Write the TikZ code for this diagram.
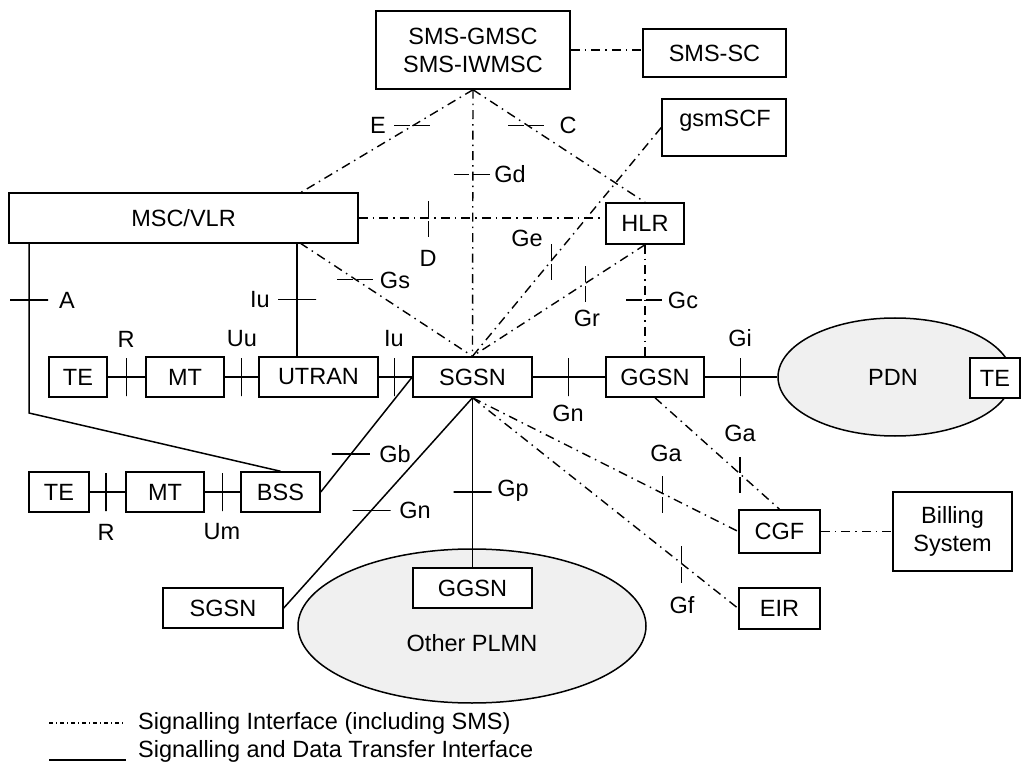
\documentclass[tikz,border=0pt]{standalone}
\usepackage{fontspec}
\setmainfont{Liberation Sans}
\usepackage{tikz}
\usetikzlibrary{shapes.geometric}
\pgfdeclarelayer{bg}
\pgfsetlayers{bg,main}

\tikzset{
  box/.style={draw, fill=white, inner sep=0pt, line width=1.5pt},
  net/.style={draw, ellipse, fill=black!6, inner sep=0pt, line width=1.5pt},
  sig/.style={line width=1.4pt, dash pattern=on 9pt off 5pt on 1.5pt off 5pt},
  dat/.style={line width=1.5pt},
  vtick/.style={draw, inner sep=0pt, minimum width=0pt, minimum height=38pt, line width=1.2pt},
  htick/.style={draw, inner sep=0pt, minimum height=0pt, minimum width=38pt, line width=1.2pt},
}

\begin{document}
\begin{tikzpicture}[x=1pt, y=-1pt, font=\fontsize{23.5}{28}\selectfont]
    \useasboundingbox (0,0) rectangle (1021,762);

    % networks
    \begin{pgfonlayer}{bg}
        \node [net, minimum width=234pt, minimum height=118pt] (pdn) at (895,377) {};
        \node [net, minimum width=348pt, minimum height=154pt] (plmn) at (472,626) {};
    \end{pgfonlayer}
    \node (pdntxt) at (893,377) {PDN};
    \node (plmntxt) at (472,643) {Other PLMN};

    % core boxes
    \node [box, minimum width=194pt, minimum height=78pt, align=center] (smsg) at (473,50) {SMS-GMSC\\SMS-IWMSC};
    \node [box, minimum width=143pt, minimum height=48pt] (smssc) at (714.5,53) {SMS-SC};
    \node [box, minimum width=124pt, minimum height=57pt] (gsmscf) at (724,127.5) {};
    \node (gsmscftxt) at (725,121) {gsmSCF};
    \node [box, minimum width=349pt, minimum height=50pt] (msc) at (183.5,218) {MSC/VLR};
    \node [box, minimum width=78pt, minimum height=41pt] (hlr) at (645,223.5) {HLR};

    \node [box, minimum width=58pt, minimum height=40pt] (te1) at (78,377) {TE};
    \node [box, minimum width=78pt, minimum height=40pt] (mt1) at (185,377) {MT};
    \node [box, minimum width=119pt, minimum height=40pt] (utran) at (318.5,377) {UTRAN};
    \node [box, minimum width=119pt, minimum height=40pt] (sgsn) at (472.5,377) {SGSN};
    \node [box, minimum width=98pt, minimum height=40pt] (ggsn) at (655,377) {GGSN};
    \node [box, minimum width=50pt, minimum height=40pt] (te3) at (995,378) {TE};

    \node [box, minimum width=60pt, minimum height=40pt] (te2) at (59,492) {TE};
    \node [box, minimum width=78pt, minimum height=40pt] (mt2) at (165,492) {MT};
    \node [box, minimum width=79pt, minimum height=40pt] (bss) at (280.5,492) {BSS};

    \node [box, minimum width=120pt, minimum height=40pt] (sgsn2) at (223,608) {SGSN};
    \node [box, minimum width=119pt, minimum height=40pt] (ggsn2) at (472.5,588) {GGSN};

    \node [box, minimum width=81pt, minimum height=43pt] (cgf) at (779.5,531.5) {CGF};
    \node [box, minimum width=81pt, minimum height=41pt] (eir) at (779.5,608.5) {EIR};
    \node [box, minimum width=119pt, minimum height=79pt, align=center] (bill) at (952.5,531.5) {Billing\\System};

    % attachment points
    \coordinate (mscE) at (300,193);
    \coordinate (mscGs) at (300,243);
    \coordinate (mscIu) at (297,243);
    \coordinate (mscA) at (29,243);
    \coordinate (bend) at (29,413);

    % interface labels
    \node (lE) at (378,125) {E};
    \node (lC) at (568,125) {C};
    \node (lGd) at (510,174) {Gd};
    \node (lD) at (428,258) {D};
    \node (lGe) at (527,238) {Ge};
    \node (lGs) at (395,280) {Gs};
    \node (lGr) at (587,318) {Gr};
    \node (lGc) at (683,300) {Gc};
    \node (lA) at (67,300) {A};
    \node (lIu) at (260,300) {Iu};
    \node (lR) at (126,339) {R};
    \node (lUu) at (242,339) {Uu};
    \node (lIu2) at (394,339) {Iu};
    \node (lGi) at (740,338) {Gi};
    \node (lGn) at (568,413) {Gn};
    \node (lGa2) at (740,433) {Ga};
    \node (lGa) at (666,453) {Ga};
    \node (lGb) at (395,454) {Gb};
    \node (lGp) at (513,491) {Gp};
    \node (lGn2) at (415,510) {Gn};
    \node (lR2) at (106,532) {R};
    \node (lUm) at (222,532) {Um};
    \node (lGf) at (682,605) {Gf};

    \begin{pgfonlayer}{bg}
        % signalling only
        \draw [sig] (smsg.east) -- (smsg.east -| smssc.west);
        \draw [sig] (smsg.south) -- node [htick, pos=.346] (tE) {} (mscE);
        \draw [sig] (smsg.south) -- node [htick, pos=.316] (tC) {} (hlr.north);
        \draw [sig] (smsg.south) -- node [htick, pos=.317] (tGd) {} (sgsn.north);
        \draw [sig] (msc.east) -- node [vtick, pos=.282] (tD) {} (msc.east -| hlr.west);
        \draw [sig] (gsmscf.west) -- node [vtick, pos=.582] (tGe) {} (sgsn.north);
        \draw [sig] (hlr.south) -- node [vtick, pos=.343] (tGr) {} (sgsn.north);
        \draw [sig] (hlr.south) -- node [htick, pos=.496] (tGc) {} (hlr.south |- ggsn.north);
        \draw [sig] (mscGs) -- node [htick, pos=.325] (tGs) {} (sgsn.north);
        \draw [sig] (sgsn.south) -- node [vtick, pos=.714] (tGa) {} (cgf.west);
        \draw [sig] (ggsn.south) -- node [vtick, pos=.683] (tGa2) {} (cgf.north);
        \draw [sig] (sgsn.south) -- node [vtick, pos=.786] (tGf) {} (eir.west);
        \draw [sig] (cgf.east) -- (bill.west);

        % signalling and data
        \draw [dat] (mscIu) -- node [htick, pos=.5] (tIu) {} (mscIu |- utran.north);
        \draw [dat] (mscA) -- node [htick, pos=.335] (tA) {} (bend) -- (bss.north);
        \draw [dat] (te1.east) -- node [vtick] (tR) {} (mt1.west);
        \draw [dat] (mt1.east) -- node [vtick] (tUu) {} (utran.west);
        \draw [dat] (utran.east) -- node [vtick, pos=.46] (tIu2) {} (sgsn.west);
        \draw [dat] (sgsn.east) -- node [vtick, pos=.49] (tGn) {} (ggsn.west);
        \draw [dat] (ggsn.east) -- node [vtick, pos=.49] (tGi) {} (pdn.west);
        \draw [dat] (te2.east) -- node [vtick, pos=.46] (tR2) {} (mt2.west);
        \draw [dat] (mt2.east) -- node [vtick, pos=.49] (tUm) {} (bss.west);
        \draw [dat] (sgsn.west) -- node [htick, pos=.67] (tGb) {} (bss.east);
        \draw [dat] (sgsn.south) -- node [htick, pos=.535] (tGn2) {} (sgsn2.east);
        \draw [dat] (sgsn.south) -- node [htick, pos=.556] (tGp) {} (ggsn2.north);
    \end{pgfonlayer}

    % legend
    \coordinate (k1a) at (49,723);
    \coordinate (k1b) at (123,723);
    \coordinate (k2a) at (49,760);
    \coordinate (k2b) at (126,760);
    \draw [line width=1.2pt, dash pattern=on 4pt off 3pt on 1pt off 3pt] (k1a) -- (k1b);
    \draw [line width=1.8pt] (k2a) -- (k2b);
    \node [anchor=west, inner sep=0pt] (key1) at (138,723) {Signalling Interface (including SMS)};
    \node [anchor=west, inner sep=0pt] (key2) at (138,751) {Signalling and Data Transfer Interface};
\end{tikzpicture}
\end{document}
